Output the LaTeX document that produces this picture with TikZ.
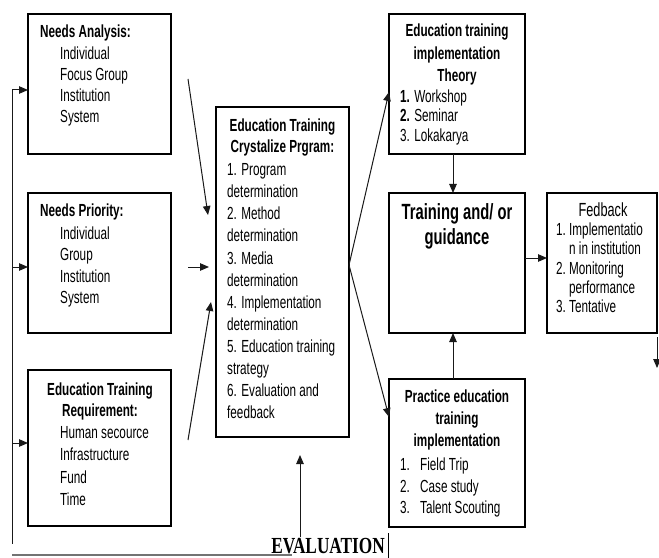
\documentclass[tikz,border=0pt]{standalone}
\usepackage{fontspec}
\setmainfont{Liberation Sans}[FakeStretch=0.67]
\newfontfamily\evalfont{Liberation Serif}[FakeStretch=0.75]
\usetikzlibrary{arrows.meta}
\begin{document}
\begin{tikzpicture}[x=1bp,y=-1bp,
  box/.style={draw, line width=1.2bp, inner sep=0pt, outer sep=0pt, anchor=north west},
  txt/.style={anchor=base west, inner sep=0pt, font=\fontsize{17.5bp}{21bp}\selectfont},
  hd/.style={txt, font=\fontsize{17.5bp}{21bp}\selectfont\bfseries},
  hdc/.style={hd, anchor=base},
  big/.style={anchor=base, inner sep=0pt, font=\fontsize{22bp}{26bp}\selectfont\bfseries},
  fbh/.style={anchor=base, inner sep=0pt, font=\fontsize{19bp}{23bp}\selectfont},
  arr/.style={-{Triangle[length=9bp,width=7.5bp]}, line width=1bp, draw=black!90},
  ln/.style={line width=1bp, draw=black!90}]
\useasboundingbox (0,0) rectangle (659,558);

% ---- boxes
\node[box, minimum width=143bp, minimum height=140bp] (na) at (28,14) {};
\node[box, minimum width=143bp, minimum height=140bp] (np) at (28,193) {};
\node[box, minimum width=143bp, minimum height=156bp] (nr) at (28,370) {};
\node[box, minimum width=133bp, minimum height=330bp] (cb) at (216,107) {};
\node[box, minimum width=136bp, minimum height=140bp] (th) at (389,14) {};
\node[box, minimum width=136bp, minimum height=140bp] (tr) at (389,193) {};
\node[box, minimum width=110bp, minimum height=140bp] (fb) at (547,193) {};
\node[box, minimum width=136bp, minimum height=148bp] (pr) at (389,379) {};

% ---- Needs Analysis
\node[hd] (na0) at (40,38) {Needs Analysis:};
\node[txt] (na1) at (60,60) {Individual};
\node[txt] (na2) at (60,81) {Focus Group};
\node[txt] (na3) at (60,102) {Institution};
\node[txt] (na4) at (60,123) {System};

% ---- Needs Priority
\node[hd] (np0) at (40,217) {Needs Priority:};
\node[txt] (np1) at (60,240) {Individual};
\node[txt] (np2) at (60,261) {Group};
\node[txt] (np3) at (60,282) {Institution};
\node[txt] (np4) at (60,303) {System};

% ---- Education Training Requirement
\node[hdc] (nr0) at (100,395) {Education Training};
\node[hdc] (nr1) at (100,416) {Requirement:};
\node[txt] (nr2) at (60,438) {Human secource};
\node[txt] (nr3) at (60,460) {Infrastructure};
\node[txt] (nr4) at (60,483) {Fund};
\node[txt] (nr5) at (60,505) {Time};

% ---- Crystalize program
\node[hdc] (cb0) at (282.5,132) {Education Training};
\node[hdc] (cb1) at (282.5,153) {Crystalize Prgram:};
\node[txt] (cb2) at (227,176) {1. Program};
\node[txt] (cb3) at (227,198) {determination};
\node[txt] (cb4) at (227,220) {2. Method};
\node[txt] (cb5) at (227,242) {determination};
\node[txt] (cb6) at (227,264) {3. Media};
\node[txt] (cb7) at (227,286) {determination};
\node[txt] (cb8) at (227,308) {4. Implementation};
\node[txt] (cb9) at (227,330) {determination};
\node[txt] (cb10) at (227,352) {5. Education training};
\node[txt] (cb11) at (227,374) {strategy};
\node[txt] (cb12) at (227,396) {6. Evaluation and};
\node[txt] (cb13) at (227,418) {feedback};

% ---- Theory
\node[hdc] (th0) at (457,37) {Education training};
\node[hdc] (th1) at (457,60) {implementation};
\node[hdc] (th2) at (457,82) {Theory};
\node[txt] (th3) at (400,103) {\textbf{1.} Workshop};
\node[txt] (th4) at (400,122) {\textbf{2.} Seminar};
\node[txt] (th5) at (400,142) {3. Lokakarya};

% ---- Training
\node[big] (tr0) at (457,220) {Training and/ or};
\node[big] (tr1) at (457,245) {guidance};

% ---- Fedback
\node[fbh] (fb0) at (603,217) {Fedback};
\node[txt] (fbn1) at (556,236) {1.};
\node[txt] (fb1) at (569,236) {Implementatio};
\node[txt] (fb2) at (569,255) {n in institution};
\node[txt] (fbn2) at (556,274) {2.};
\node[txt] (fb3) at (569,274) {Monitoring};
\node[txt] (fb4) at (569,293) {performance};
\node[txt] (fbn3) at (556,312) {3.};
\node[txt] (fb5) at (569,312) {Tentative};

% ---- Practice
\node[hdc] (pr0) at (457,402) {Practice education};
\node[hdc] (pr1) at (457,424) {training};
\node[hdc] (pr2) at (457,446) {implementation};
\node[txt] (prn1) at (400,470) {1.};
\node[txt] (pr3) at (420,470) {Field Trip};
\node[txt] (prn2) at (400,492) {2.};
\node[txt] (pr4) at (420,492) {Case study};
\node[txt] (prn3) at (400,513) {3.};
\node[txt] (pr5) at (420,513) {Talent Scouting};

% ---- EVALUATION
\node[anchor=base, inner sep=0pt, font=\evalfont\fontsize{23bp}{27bp}\selectfont\bfseries] (ev) at (328,553) {EVALUATION};

% ---- coordinates
\coordinate (L1) at (12,90);
\coordinate (L2) at (12,267);
\coordinate (L3) at (12,443);
\coordinate (L4) at (12,544);
\coordinate (B1) at (12,555);
\coordinate (B2) at (292,555);
\coordinate (a1s) at (188,79);  \coordinate (a1e) at (208,215);
\coordinate (a2s) at (188,267); \coordinate (a2e) at (209,267);
\coordinate (a3s) at (188,440); \coordinate (a3e) at (211,302);
\coordinate (c0) at (349,265);
\coordinate (thin) at (389,92);
\coordinate (prin) at (389,417);
\coordinate (vx) at (453,0);
\coordinate (hy) at (0,258);
\coordinate (fd1) at (657,337); \coordinate (fd2) at (657,368);
\coordinate (e1) at (300,537); \coordinate (e2) at (300,455);
\coordinate (k1) at (388,533); \coordinate (k2) at (388,558);

% ---- connectors
\draw[ln] (L1) -- (L4);
\draw[arr] (L1) -- (L1 -| na.west);
\draw[arr] (L2) -- (L2 -| np.west);
\draw[arr] (L3) -- (L3 -| nr.west);
\draw[line width=1.6bp, draw=black!55] (B1) -- (B2);
\draw[arr] (a1s) -- (a1e);
\draw[arr] (a2s) -- (a2e);
\draw[arr] (a3s) -- (a3e);
\draw[arr] (c0) -- (thin);
\draw[arr] (c0) -- (prin);
\draw[arr] (th.south -| vx) -- (tr.north -| vx);
\draw[arr] (pr.north -| vx) -- (tr.south -| vx);
\draw[arr] (tr.east |- hy) -- (fb.west |- hy);
\draw[arr] (fd1) -- (fd2);
\draw[arr] (e1) -- (e2);
\draw[line width=0.8bp] (k1) -- (k2);
\end{tikzpicture}
\end{document}
